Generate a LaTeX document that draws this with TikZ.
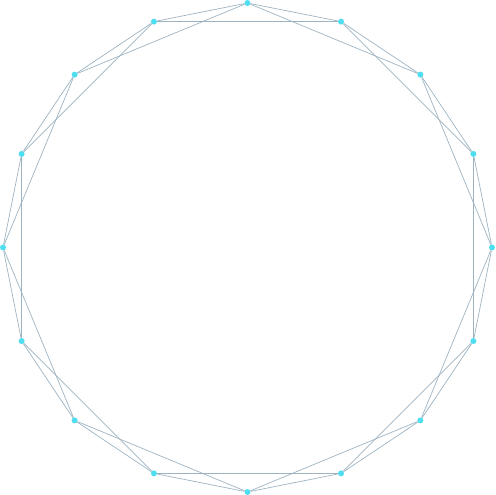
\documentclass[tikz,border=0pt]{standalone}
\definecolor{edgecol}{HTML}{9EB3C2}
\definecolor{nodecol}{HTML}{4FDDF0}
\tikzset{
  vtx/.style={circle,fill=nodecol,draw=none,inner sep=0pt,minimum size=6pt},
  edg/.style={draw=edgecol,line width=0.7pt}
}
\begin{document}
\begin{tikzpicture}[x=1pt,y=1pt]
\useasboundingbox (0,0) rectangle (495,495);
\foreach \i in {0,...,15} {
  \node[vtx] (n\i) at ({247.5+244.5*cos(90-22.5*\i)},{247.5+244.5*sin(90-22.5*\i)}) {};
}
\foreach \i in {0,...,15} {
  \pgfmathtruncatemacro{\a}{mod(\i+1,16)}
  \pgfmathtruncatemacro{\b}{mod(\i+2,16)}
  \draw[edg] (n\i) -- (n\a);
  \draw[edg] (n\i) -- (n\b);
}
\end{tikzpicture}
\end{document}
